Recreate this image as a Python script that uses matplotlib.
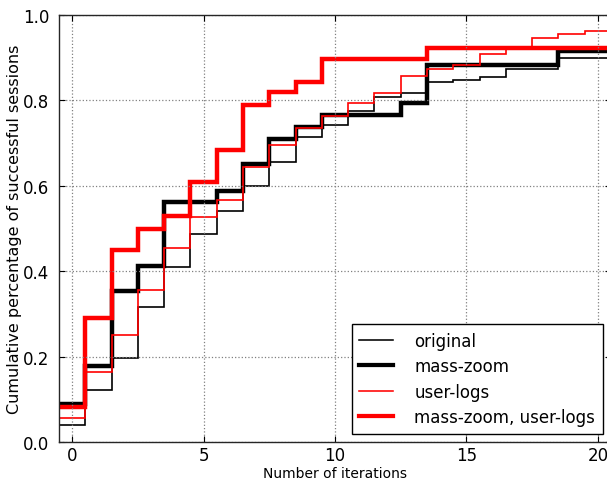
import numpy as np
import matplotlib
matplotlib.use("Agg")
import matplotlib.pyplot as plt

# Cumulative fraction of successful sessions after each iteration (0..20)
iterations = np.arange(0, 21)

original = [0.040, 0.122, 0.197, 0.316, 0.410, 0.487, 0.541, 0.600, 0.656,
            0.714, 0.742, 0.775, 0.808, 0.817, 0.843, 0.848, 0.855, 0.873,
            0.873, 0.899, 0.899]
mass_zoom = [0.088, 0.178, 0.354, 0.413, 0.562, 0.562, 0.588, 0.650, 0.710,
             0.738, 0.766, 0.766, 0.766, 0.795, 0.884, 0.884, 0.884, 0.884,
             0.884, 0.915, 0.915]
user_logs = [0.057, 0.164, 0.250, 0.355, 0.454, 0.528, 0.566, 0.645, 0.696,
             0.735, 0.763, 0.793, 0.817, 0.857, 0.873, 0.882, 0.908, 0.924,
             0.947, 0.955, 0.963]
mass_zoom_user_logs = [0.082, 0.290, 0.450, 0.500, 0.530, 0.610, 0.684,
                       0.790, 0.820, 0.843, 0.897, 0.897, 0.897, 0.897, 0.923,
                       0.923, 0.923, 0.923, 0.923, 0.923, 0.923]

series = [
    ("original", original, "black", 1.2),
    ("mass-zoom", mass_zoom, "black", 3.2),
    ("user-logs", user_logs, "red", 1.2),
    ("mass-zoom, user-logs", mass_zoom_user_logs, "red", 3.2),
]

plt.rcParams["font.family"] = "DejaVu Sans"

fig = plt.figure(figsize=(6.07, 4.81), dpi=100)
ax = fig.add_axes([59 / 607, 38 / 481, 552 / 607, 427 / 481])

edges = np.append(iterations - 0.5, iterations[-1] + 0.5)
handles = []
for label, values, color, lw in series:
    ax.stairs(values, edges, baseline=None, color=color, linewidth=lw,
              label=label)
    handles.append(plt.Line2D([], [], color=color, linewidth=lw * 0.95,
                              label=label))

ax.set_xlim(-0.5, 20.5)
ax.set_ylim(0.0, 1.0)
ax.set_xticks([0, 5, 10, 15, 20])
ax.set_yticks([0.0, 0.2, 0.4, 0.6, 0.8, 1.0])
ax.yaxis.set_major_formatter(matplotlib.ticker.FormatStrFormatter("%.1f"))
ax.tick_params(direction="in", length=4, width=0.8, labelsize=12,
               top=True, right=True)
ax.tick_params(axis="x", pad=3)
ax.tick_params(axis="y", pad=7)
ax.grid(True, linestyle=":", color="0.5", linewidth=0.9)
for sp in ax.spines.values():
    sp.set_linewidth(1.0)
    sp.set_color("0.15")

ax.set_xlabel("Number of iterations", fontsize=10, labelpad=1)
ax.set_ylabel("Cumulative percentage of successful sessions", fontsize=11.5,
              labelpad=1)

leg = ax.legend(handles=handles, loc="lower right", fontsize=12,
                fancybox=False, framealpha=1, edgecolor="black",
                handlelength=2.0, handletextpad=1.3, borderaxespad=0.5,
                labelspacing=0.45, borderpad=0.45)
leg.get_frame().set_linewidth(1.0)

fig.savefig("out.png", dpi=100, facecolor="white")
